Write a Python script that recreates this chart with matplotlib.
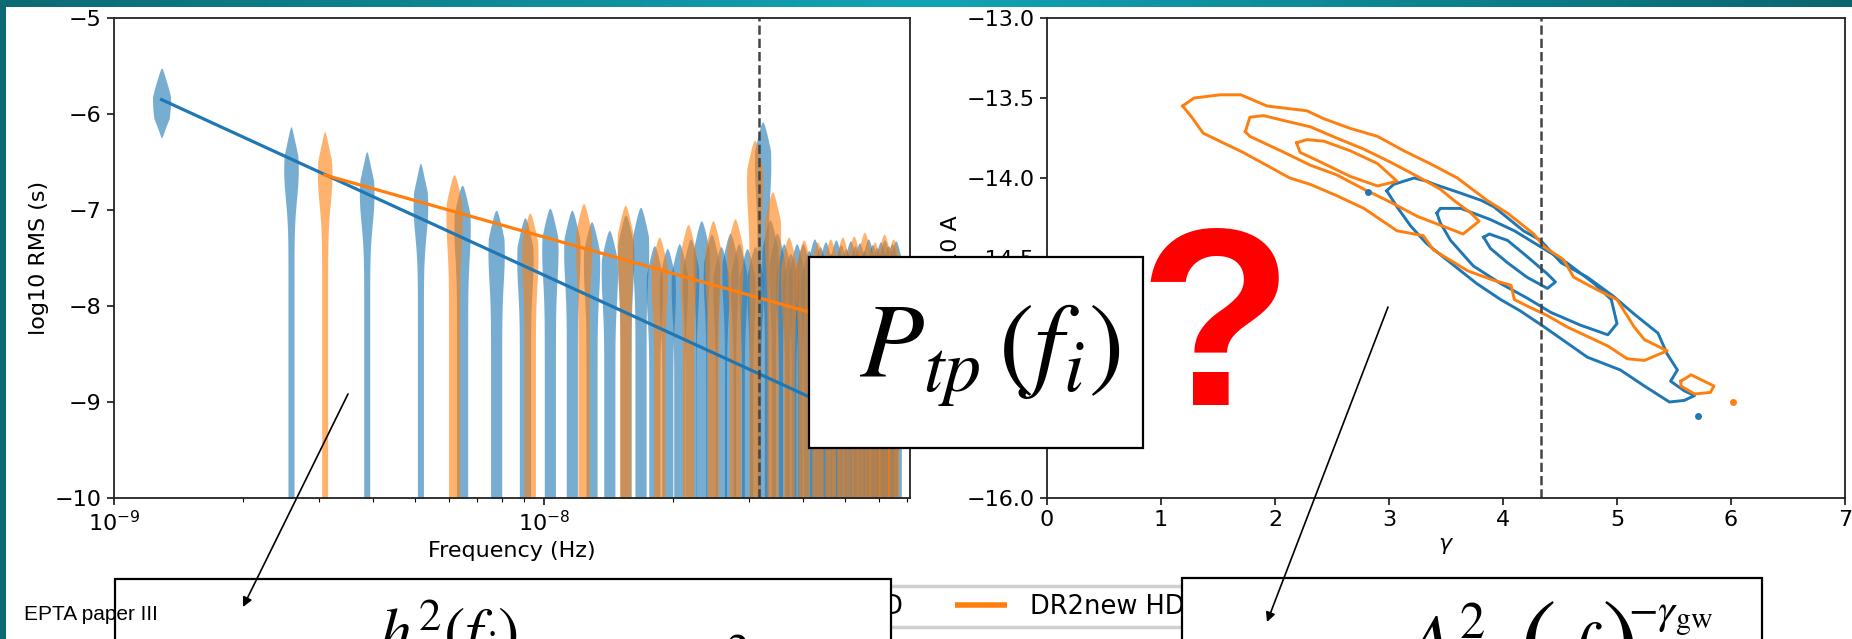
import numpy as np
import matplotlib
matplotlib.use("Agg")
import matplotlib.pyplot as plt
from matplotlib.patches import Rectangle
from matplotlib.lines import Line2D
from matplotlib.colors import LinearSegmentedColormap
from matplotlib import font_manager

# ---------------- data ----------------
# frequency bins: harmonics of 1/T for the two data sets
f1_full = 1.29e-9          # DR2full, 1/T
f1_new = 3.09e-9           # DR2new, 1/T
f_yr = 1.0 / (365.25 * 86400)

# upper end of each violin (log10 RMS / s), one per harmonic
full_tops = [-5.52, -6.13, -6.39, -6.51, -6.74, -7.00, -7.08, -6.98, -7.00, -7.12,
             -7.21, -7.05, -6.97, -7.37, -7.40, -7.35, -7.30, -7.11, -7.25, -7.38,
             -7.24, -7.35, -7.40, -7.38, -6.08, -7.10, -7.24, -7.35, -7.45, -7.35,
             -7.35, -7.42, -7.30, -7.38, -7.33, -7.45, -7.31, -7.36, -7.40, -7.32,
             -7.37, -7.34, -7.42, -7.30, -7.36, -7.39, -7.33, -7.31, -7.37, -7.35,
             -7.32]
new_tops = [-6.18, -6.63, -7.03, -6.93, -6.95, -7.28, -7.15, -7.11, -7.09, -6.27,
            -6.81, -7.28, -7.31, -7.33, -7.30, -7.28, -7.27, -7.23, -7.33, -7.25,
            -7.30]
# lowest harmonic of DR2full is fully constrained
full_first_bottom = -6.25
full_first_peak = -5.85

# power-law fits: log10 RMS at first and last harmonic
full_fit = [-5.85, -9.36]
new_fit = [-6.635, -8.31]

# gamma / log10 A credible contours
orange_outer = [(1.19, -13.55), (1.29, -13.50), (1.52, -13.48), (1.70, -13.48), (1.93, -13.55),
                (2.28, -13.58), (2.43, -13.63), (2.66, -13.69), (2.90, -13.74), (3.13, -13.83),
                (3.36, -13.91), (3.60, -14.00), (3.86, -14.14), (4.04, -14.22), (4.27, -14.35),
                (4.36, -14.43), (4.53, -14.51), (4.62, -14.62), (4.83, -14.70), (5.00, -14.76),
                (5.15, -14.93), (5.24, -15.01), (5.44, -15.08), (5.24, -15.14), (5.09, -15.13),
                (4.92, -15.05), (4.74, -14.99), (4.56, -14.93), (4.39, -14.86), (4.24, -14.81),
                (4.10, -14.76), (4.07, -14.67), (3.92, -14.64), (3.69, -14.58), (3.39, -14.45),
                (3.30, -14.36), (3.07, -14.33), (2.78, -14.19), (2.54, -14.11), (2.31, -14.04),
                (2.13, -14.00), (1.72, -13.84), (1.37, -13.72), (1.27, -13.62), (1.19, -13.55)]
orange_mid = [(1.74, -13.71), (1.78, -13.62), (1.90, -13.61), (2.13, -13.65), (2.31, -13.68),
              (2.54, -13.75), (2.78, -13.82), (3.01, -13.90), (3.25, -13.99), (3.45, -14.07),
              (3.57, -14.14), (3.72, -14.22), (3.79, -14.27), (3.65, -14.35), (3.25, -14.24),
              (3.01, -14.15), (2.78, -14.07), (2.54, -13.98), (2.31, -13.92), (2.08, -13.84),
              (1.78, -13.74), (1.74, -13.71)]
orange_inner = [(2.19, -13.78), (2.28, -13.76), (2.43, -13.77), (2.66, -13.83), (2.90, -13.91),
                (3.07, -14.02), (2.90, -14.05), (2.66, -13.99), (2.37, -13.89), (2.22, -13.84),
                (2.19, -13.78)]
orange_island = [(5.56, -15.27), (5.65, -15.23), (5.85, -15.30), (5.82, -15.34), (5.68, -15.35),
                 (5.56, -15.30), (5.56, -15.27)]
orange_dots = [(6.02, -15.40)]

blue_outer = [(2.98, -14.08), (3.04, -14.04), (3.22, -14.00), (3.33, -14.02), (3.40, -14.04),
              (3.61, -14.09), (3.81, -14.14), (3.92, -14.18), (4.18, -14.33), (4.33, -14.39),
              (4.51, -14.53), (4.74, -14.62), (4.97, -14.74), (5.15, -14.85), (5.36, -14.97),
              (5.44, -15.10), (5.53, -15.20), (5.47, -15.27), (5.59, -15.33), (5.68, -15.36),
              (5.59, -15.39), (5.46, -15.40), (5.24, -15.30), (5.03, -15.20), (4.74, -15.12),
              (4.56, -15.03), (4.36, -14.93), (4.15, -14.83), (3.98, -14.76), (3.77, -14.66),
              (3.54, -14.53), (3.33, -14.41), (3.19, -14.30), (3.07, -14.18), (2.98, -14.08)]
blue_mid = [(3.42, -14.22), (3.45, -14.19), (3.63, -14.19), (3.89, -14.26), (4.10, -14.33),
            (4.33, -14.43), (4.56, -14.53), (4.80, -14.66), (4.95, -14.76), (5.00, -14.91),
            (4.92, -14.98), (4.68, -14.92), (4.42, -14.84), (4.21, -14.75), (3.98, -14.66),
            (3.74, -14.55), (3.54, -14.39), (3.45, -14.28), (3.42, -14.22)]
blue_inner = [(3.83, -14.37), (3.88, -14.35), (4.04, -14.39), (4.21, -14.49), (4.39, -14.60),
              (4.46, -14.65), (4.39, -14.69), (4.21, -14.62), (4.04, -14.53), (3.89, -14.44),
              (3.83, -14.37)]
blue_dots = [(2.82, -14.09), (5.71, -15.49)]

gamma_ref = 13.0 / 3.0

labels = ["DR2full HD", "DR2new HD"]

# ---------------- figure ----------------
W, H = 1852, 639
fig = plt.figure(figsize=(W / 100, H / 100), dpi=100, facecolor="white")

C_FULL = "#1f77b4"
C_NEW = "#ff7f0e"
TICK_FS = 16
LABEL_FS = 16


def style_axes(ax):
    for s in ax.spines.values():
        s.set_linewidth(1.3)
        s.set_color("#222222")
    ax.tick_params(which="major", length=5, width=1.1, labelsize=TICK_FS, pad=4)
    ax.tick_params(which="minor", length=3, width=0.8)


def violin(ax, f, top, color, bottom=-10.6, peak=None, w_peak=0.019, w_tail=0.013):
    if peak is None:
        peak = top - 0.45
    y = np.linspace(bottom, top, 400)
    bulge = np.exp(-0.5 * ((y - peak) / 0.3) ** 2)
    w = w_tail + (w_peak - w_tail) * bulge
    w = w * np.clip((top - y) / 0.3, 0, 1) ** 0.6
    if bottom > -10:
        w = w * np.clip((y - bottom) / 0.2, 0, 1) ** 0.7
    ax.fill_betweenx(y, f * 10 ** (-w), f * 10 ** (w), color=color, alpha=0.6, lw=0)


# ---- free spectrum panel ----
ax1 = fig.add_axes([114 / W, 1 - 498 / H, (910 - 114) / W, 480 / H])
style_axes(ax1)
ax1.set_xscale("log")

for i, top in enumerate(full_tops, start=1):
    f = i * f1_full
    if i == 1:
        violin(ax1, f, top, C_FULL, bottom=full_first_bottom, peak=full_first_peak,
               w_peak=0.021, w_tail=0.004)
    elif i <= 4:
        violin(ax1, f, top, C_FULL, w_peak=0.017, w_tail=0.007)
    else:
        violin(ax1, f, top, C_FULL)
for i, top in enumerate(new_tops, start=1):
    f = i * f1_new
    if i == 1:
        violin(ax1, f, top, C_NEW, w_peak=0.017, w_tail=0.007)
    else:
        violin(ax1, f, top, C_NEW)

ax1.plot([f1_full, len(full_tops) * f1_full], full_fit, color=C_FULL, lw=2.3)
ax1.plot([f1_new, len(new_tops) * f1_new], new_fit, color=C_NEW, lw=2.3)
ax1.axvline(f_yr, color="#444444", ls="--", lw=1.8)

ax1.set_xlim(1e-9, 7.1e-8)
ax1.set_ylim(-10, -5)
ax1.set_yticks([-10, -9, -8, -7, -6, -5])
ax1.set_xlabel("Frequency (Hz)", fontsize=LABEL_FS)
ax1.set_ylabel("log10 RMS (s)", fontsize=LABEL_FS)

handles = [Line2D([], [], color=C_FULL, lw=4, solid_capstyle="butt"),
           Line2D([], [], color=C_NEW, lw=4, solid_capstyle="butt")]
leg = ax1.legend(handles, labels, ncol=2, fontsize=18.5, loc="upper left",
                 bbox_to_anchor=(680 / W, 1 - 586 / H), bbox_transform=fig.transFigure,
                 borderaxespad=0, borderpad=0.3, handlelength=2.05, handletextpad=0.86,
                 columnspacing=2.0, framealpha=1, edgecolor="#d0d0d0")
leg.get_frame().set_linewidth(2.5)

# ---- gamma / amplitude panel ----
ax2 = fig.add_axes([1047 / W, 1 - 498 / H, (1845 - 1047) / W, 480 / H])
style_axes(ax2)
for poly in (blue_outer, blue_mid, blue_inner):
    p = np.array(poly)
    ax2.plot(p[:, 0], p[:, 1], color=C_FULL, lw=2.1)
for poly in (orange_outer, orange_mid, orange_inner, orange_island):
    p = np.array(poly)
    ax2.plot(p[:, 0], p[:, 1], color=C_NEW, lw=2.1)
bd = np.array(blue_dots)
ax2.plot(bd[:, 0], bd[:, 1], "o", color=C_FULL, ms=5, mew=0)
od = np.array(orange_dots)
ax2.plot(od[:, 0], od[:, 1], "o", color=C_NEW, ms=5, mew=0)
ax2.axvline(gamma_ref, color="#444444", ls="--", lw=1.8)
ax2.set_xlim(0, 7)
ax2.set_ylim(-16, -13)
yt = np.arange(-16, -12.9, 0.5)
ax2.set_yticks(yt)
ax2.set_yticklabels(["\u2212%.1f" % abs(v) for v in yt])
ax2.set_xlabel(r"$\gamma$", fontsize=LABEL_FS)
ax2.set_ylabel("log10 A", fontsize=LABEL_FS)

# ---- slide overlay: frame, boxes, formulas, arrows ----
ov = fig.add_axes([0, 0, 1, 1])
ov.set_zorder(10)
ov.axis("off")
band = LinearSegmentedColormap.from_list("band", ["#0b6a74", "#12a4b5", "#0a6570"])
ov.imshow(np.linspace(0, 1, 256).reshape(1, -1), cmap=band, aspect="auto",
          extent=(0, W, 7, 0))
ov.add_patch(Rectangle((0, 0), 6, H, fc="#0b6b75", ec="none"))
ov.set_xlim(0, W)
ov.set_ylim(H, 0)

ov.add_patch(Rectangle((809, 257), 334, 191, fc="white", ec="black", lw=1.6))
ov.add_patch(Rectangle((115, 579), 776, 200, fc="white", ec="black", lw=1.6))
ov.add_patch(Rectangle((1182, 578), 580, 200, fc="white", ec="black", lw=1.6))

MF = "stix"
ov.text(990, 377, r"$P_{tp}\,(f_i)$", fontsize=76, math_fontfamily=MF,
        ha="center", va="baseline")

# free-spectrum power
ov.text(453, 598, r"$\dfrac{h_c^2(f_i)}{12\pi^2 f_i^3\,T}$", fontsize=46,
        math_fontfamily=MF, ha="center", va="top")
ov.text(615, 633, r"$=\;\rho_i^2$", fontsize=46, math_fontfamily=MF,
        ha="left", va="top")

# power-law spectrum
ov.text(1450, 601, r"$\dfrac{A^2}{12\pi^2}$", fontsize=52, math_fontfamily=MF,
        ha="center", va="top")
ov.text(1519, 592, r"$($", fontsize=80, math_fontfamily=MF, ha="left", va="top")
ov.text(1576, 620, r"$\dfrac{f}{f_{\rm yr}}$", fontsize=52, math_fontfamily=MF,
        ha="center", va="top")
ov.text(1601, 592, r"$)$", fontsize=80, math_fontfamily=MF, ha="left", va="top")
ov.text(1628, 597, r"$-\gamma_{\rm gw}$", fontsize=31, math_fontfamily=MF,
        ha="left", va="top")

try:
    font_manager.findfont("Liberation Sans Narrow", fallback_to_default=False)
    narrow = "Liberation Sans Narrow"
except Exception:
    narrow = "Liberation Sans"
ov.text(24, 614, "EPTA paper III", fontsize=15, family=narrow, ha="left", va="center")

ov.text(1216, 405, "?", color="#ff0000", fontsize=182, fontweight="bold",
        family="Liberation Sans", ha="center", va="baseline")

arrow = dict(arrowstyle="-|>", color="black", lw=1.2, mutation_scale=14, shrinkA=0, shrinkB=0)
ov.annotate("", xy=(243, 607), xytext=(348, 394), arrowprops=arrow)
ov.annotate("", xy=(1267, 622), xytext=(1388, 307), arrowprops=arrow)

fig.savefig("out.png", dpi=100, facecolor="white")
